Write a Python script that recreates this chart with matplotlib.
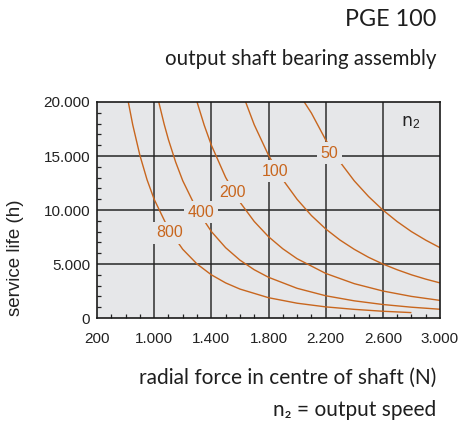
import matplotlib
matplotlib.use("Agg")
import matplotlib.pyplot as plt
from matplotlib.ticker import MultipleLocator

# radial force (N) and service life (h), one curve per output speed n2
force_50 = [2050, 2100, 2200, 2300, 2400, 2500, 2600, 2700, 2800, 2900, 3000]
life_50 = [20000, 18980, 16500, 14450, 12700, 11250, 10000, 8930, 8000, 7210, 6510]

force_100 = [1640, 1700, 1800, 1900, 2000, 2100, 2200, 2300, 2400, 2500, 2600, 2700, 2800, 2900, 3000]
life_100 = [20000, 17900, 15070, 12810, 10990, 9490, 8250, 7220, 6360, 5620, 5000, 4470, 4000, 3600, 3250]

force_200 = [1300, 1350, 1400, 1500, 1600, 1700, 1800, 1900, 2000, 2200, 2400, 2600, 2800, 3000]
life_200 = [20000, 17860, 16010, 13020, 10730, 8940, 7530, 6410, 5490, 4130, 3180, 2500, 2000, 1630]

force_400 = [1032, 1070, 1100, 1150, 1200, 1300, 1400, 1500, 1600, 1700, 1800, 2000, 2200, 2400, 2600, 2800, 3000]
life_400 = [20000, 17940, 16510, 14450, 12710, 10000, 8010, 6510, 5360, 4470, 3770, 2750, 2060, 1590, 1250, 1000, 810]

force_800 = [819, 850, 900, 950, 1000, 1100, 1200, 1300, 1400, 1500, 1600, 1800, 2000, 2200, 2400, 2600, 2800]
life_800 = [20000, 17890, 15070, 12810, 10990, 8250, 6360, 5000, 4000, 3250, 2680, 1880, 1370, 1030, 800, 625, 500]

speeds = ["50", "100", "200", "400", "800"]
# where the speed labels sit (force, life)
label_pos = [(2228, 15260), (1849, 13580), (1547, 11630), (1330, 9770), (1105, 7900)]

x_ticks = [600, 1000, 1400, 1800, 2200, 2600, 3000]
x_labels = ["200", "1.000", "1.400", "1.800", "2.200", "2.600", "3.000"]
y_ticks = [0, 5000, 10000, 15000, 20000]
y_labels = ["0", "5.000", "10.000", "15.000", "20.000"]

orange = "#c8661e"
panel = "#e6e7e9"
sans = ["Liberation Sans", "DejaVu Sans"]
title_font = ["Lato", "DejaVu Sans"]

plt.rcParams["mathtext.fontset"] = "custom"
plt.rcParams["mathtext.rm"] = "Liberation Sans"
plt.rcParams["mathtext.it"] = "Liberation Sans"

fig = plt.figure(figsize=(4.61, 4.23), dpi=100)
ax = fig.add_axes([97 / 461, 1 - 318 / 423, 343 / 461, 216 / 423])
ax.set_facecolor(panel)

for x in x_ticks[1:-1]:
    ax.axvline(x, color="#4a4a4a", lw=1.3, zorder=1)
for y in y_ticks[1:-1]:
    ax.axhline(y, color="#262626", lw=1.1, zorder=1)

curves = [(force_50, life_50), (force_100, life_100), (force_200, life_200),
          (force_400, life_400), (force_800, life_800)]
for f, l in curves:
    ax.plot(f, l, color=orange, lw=1.0, zorder=2, solid_capstyle="butt")

for s, (fx, ly) in zip(speeds, label_pos):
    ax.text(fx, ly, s, color=orange, fontsize=11.5, family=sans, ha="center", va="center",
            zorder=3, bbox=dict(facecolor=panel, edgecolor="none", pad=2.5))

ax.text(2797, 18140, "n$_2$", color="#222222", fontsize=12.5, ha="center", va="center")

ax.set_xlim(600, 3000)
ax.set_ylim(0, 20000)
ax.set_xticks(x_ticks)
ax.set_xticklabels(x_labels, family=sans, fontsize=11, color="#222222")
ax.set_yticks(y_ticks)
ax.set_yticklabels(y_labels, family=sans, fontsize=11, color="#222222")
ax.xaxis.set_minor_locator(MultipleLocator(100))
ax.yaxis.set_minor_locator(MultipleLocator(1000))
ax.tick_params(which="both", direction="in", length=3, width=0.9, color="#222222")
ax.tick_params(which="major", length=0)
ax.tick_params(axis="x", which="major", pad=10)
ax.tick_params(axis="y", which="major", pad=5)
for sp in ax.spines.values():
    sp.set_color("#1a1a1a")
    sp.set_linewidth(1.2)

fig.text(15 / 461, 1 - 258 / 423, "service life (h)", rotation=90, family=sans, fontsize=13.5,
         ha="center", va="center", color="#222222")
fig.text(436 / 461, 1 - 20 / 423, "PGE 100", family=title_font, fontsize=16.8,
         ha="right", va="center", color="#1e1e1e")
fig.text(436 / 461, 1 - 59 / 423, "output shaft bearing assembly", family=title_font, fontsize=14.8,
         ha="right", va="center", color="#1e1e1e")
fig.text(436 / 461, 1 - 378 / 423, "radial force in centre of shaft (N)", family=title_font,
         fontsize=15, ha="right", va="center", color="#1e1e1e")
fig.text(436 / 461, 1 - 410 / 423, "n\u2082 = output speed", family=title_font, fontsize=15,
         ha="right", va="center", color="#1e1e1e")

fig.savefig("out.png", dpi=100)
